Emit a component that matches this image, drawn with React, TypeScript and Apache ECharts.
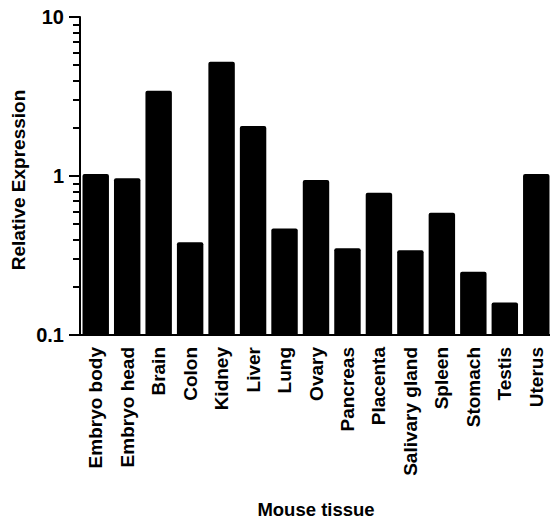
import React, { useEffect, useRef } from "react";
import * as echarts from "echarts";

const tissues = [
  "Embryo body",
  "Embryo head",
  "Brain",
  "Colon",
  "Kidney",
  "Liver",
  "Lung",
  "Ovary",
  "Pancreas",
  "Placenta",
  "Salivary gland",
  "Spleen",
  "Stomach",
  "Testis",
  "Uterus",
];

const relativeExpression = [
  1.03, 0.967, 3.44, 0.383, 5.24, 2.06, 0.467, 0.944, 0.351, 0.785, 0.341,
  0.588, 0.25, 0.16, 1.03,
];

const minorTickValues = [
  0.2, 0.3, 0.4, 0.5, 0.6, 0.7, 0.8, 0.9, 2, 3, 4, 5, 6, 7, 8, 9,
];

const FONT = "'Liberation Sans', Arial, sans-serif";

export default function App() {
  const ref = useRef<HTMLDivElement>(null);

  useEffect(() => {
    if (!ref.current) return;
    const chart = echarts.init(ref.current, null, { renderer: "svg" });
    chart.setOption({
      animation: false,
      backgroundColor: "#ffffff",
      grid: {
        left: 80,
        right: -2,
        top: 17,
        bottom: 186,
        containLabel: false,
        outerBoundsMode: "none",
      },
      xAxis: {
        type: "category",
        data: tissues,
        name: "Mouse tissue",
        nameLocation: "middle",
        nameGap: 165,
        nameMoveOverlap: false,
        nameTextStyle: {
          fontFamily: FONT,
          fontWeight: "bold",
          fontSize: 18.5,
          color: "#000",
        },
        axisLine: { show: true, lineStyle: { color: "#000", width: 2 } },
        axisTick: { show: false },
        axisLabel: {
          rotate: 90,
          interval: 0,
          margin: 12,
          fontFamily: FONT,
          fontWeight: "bold",
          fontSize: 19,
          color: "#000",
        },
      },
      yAxis: [
        {
          type: "log",
          logBase: 10,
          min: 0.1,
          max: 10,
          startValue: 0.1,
          name: "Relative Expression",
          nameLocation: "middle",
          nameGap: 52,
          nameMoveOverlap: false,
          nameTextStyle: {
            fontFamily: FONT,
            fontWeight: "bold",
            fontSize: 19,
            color: "#000",
            padding: [0, 8, 0, 0],
          },
          axisLine: { show: true, lineStyle: { color: "#000", width: 2 } },
          axisTick: {
            show: true,
            length: 11,
            lineStyle: { color: "#000", width: 2 },
          },
          splitLine: { show: false },
          axisLabel: {
            margin: 16,
            fontFamily: FONT,
            fontWeight: "bold",
            fontSize: 20,
            color: "#000",
            formatter: (v: number) => String(v),
          },
        },
        {
          type: "log",
          logBase: 10,
          min: 0.1,
          max: 10,
          position: "left",
          axisLine: { show: false },
          splitLine: { show: false },
          axisLabel: { show: false },
          axisTick: {
            show: true,
            length: 7,
            customValues: minorTickValues,
            lineStyle: { color: "#000", width: 2 },
          },
        },
      ],
      series: [
        {
          type: "bar",
          data: relativeExpression,
          yAxisIndex: 0,
          barCategoryGap: "16%",
          itemStyle: { color: "#000", borderRadius: [2, 2, 0, 0] },
        },
      ],
    });
    return () => chart.dispose();
  }, []);

  return (
    <div
      ref={ref}
      style={{ position: "fixed", left: 0, top: 0, width: 550, height: 521 }}
    />
  );
}
